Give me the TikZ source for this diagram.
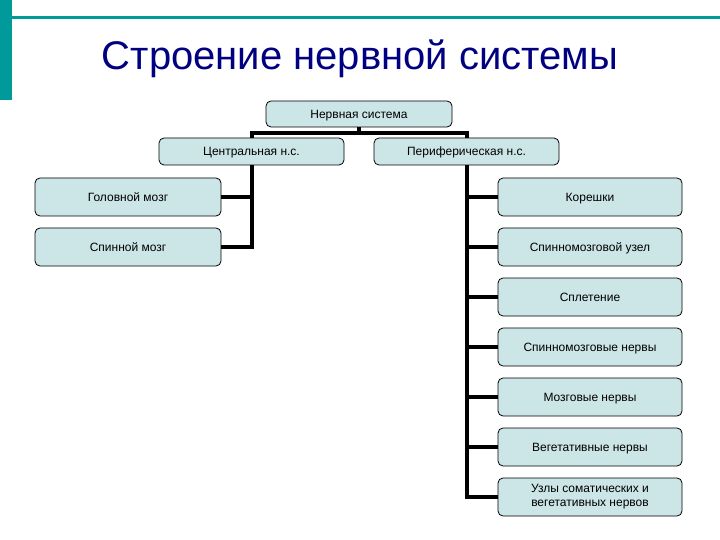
\documentclass[tikz,border=0pt]{standalone}
\usepackage{fontspec}
\setmainfont{Liberation Sans}
\usetikzlibrary{calc}
\definecolor{boxfill}{HTML}{CCE5E6}
\definecolor{teal1}{HTML}{009A9A}
\definecolor{navy1}{HTML}{000080}
\tikzset{
  boxbase/.style={draw=black, line width=0.8pt, fill=boxfill, rounded corners=5pt,
    inner sep=0pt, font=\fontsize{12}{14}\selectfont, align=center},
  box/.style={boxbase, text height=8.6pt, text depth=0pt},
  conn/.style={line width=4pt, draw=black},
}
\begin{document}
\begin{tikzpicture}[x=1pt,y=-1pt]
\useasboundingbox (0,0) rectangle (720,540);
\fill[white] (0,0) rectangle (720,540);
% decoration
\fill[teal1] (0,0) rectangle (12,100);
\fill[teal1] (10,16.5) rectangle (720,19.5);
\node[text=navy1, font=\fontsize{40}{44}\selectfont, anchor=center] (title) at (360,59) {Строение нервной системы};
% boxes
\node[box, minimum width=186, minimum height=26] (top) at (359,114) {Нервная система};
\node[box, minimum width=185, minimum height=27] (cen) at (251.5,151.5) {Центральная н.с.};
\node[box, minimum width=185, minimum height=27] (per) at (466.5,151.5) {Периферическая н.с.};
\node[box, minimum width=186, minimum height=38] (l1) at (128,197) {Головной мозг};
\node[box, minimum width=186, minimum height=38] (l2) at (128,247) {Спинной мозг};
\node[box, minimum width=184, minimum height=38] (r1) at (590,197) {Корешки};
\node[box, minimum width=184, minimum height=38] (r2) at (590,247) {Спинномозговой узел};
\node[box, minimum width=184, minimum height=38] (r3) at (590,297) {Сплетение};
\node[box, minimum width=184, minimum height=38] (r4) at (590,347) {Спинномозговые нервы};
\node[box, minimum width=184, minimum height=38] (r5) at (590,397) {Мозговые нервы};
\node[box, minimum width=184, minimum height=38] (r6) at (590,447) {Вегетативные нервы};
\node[boxbase, minimum width=184, minimum height=38] (r7) at (590,497) {Узлы соматических и\\вегетативных нервов\rule{0pt}{9pt}};
% connectors
\coordinate (j) at ($(top.south)+(0,5.5)$);
\draw[conn] (top.south) -- (j);
\draw[conn] (cen.north) |- (j);
\draw[conn] (per.north) |- (j);
\draw[conn] (cen.south) |- (l2.east);
\draw[conn] (l1.east) -- (l1.east -| cen.south);
\draw[conn] (per.south) |- (r7.west);
\foreach \r in {r1,r2,r3,r4,r5,r6} {
  \draw[conn] (\r.west) -- (\r.west -| per.south);
}
\end{tikzpicture}
\end{document}
